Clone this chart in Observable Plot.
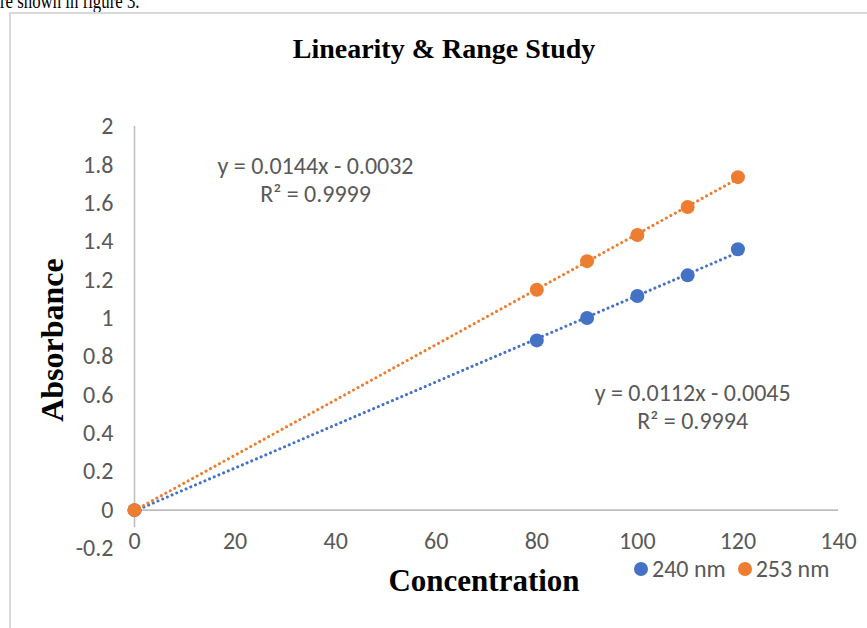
<!DOCTYPE html>
<html>
<head>
<meta charset="utf-8">
<script src="https://cdn.jsdelivr.net/npm/d3@7"></script>
<script src="https://cdn.jsdelivr.net/npm/@observablehq/plot@0.6"></script>
<style>
  body { margin: 0; background: #fff; }
  #wrap { position: relative; width: 867px; height: 628px; overflow: hidden; background: #fff; }
  #wrap svg { position: absolute; left: 0; top: 0; }
  .serif { font-family: "Liberation Serif", "Times New Roman", serif; color: #000; position: absolute; white-space: nowrap; }
  #intro { left: 0; top: -9px; font-size: 21px; line-height: 21px; transform: scaleX(0.8); transform-origin: 0 0; }
  #frame { position: absolute; left: 9px; top: 12px; width: 900px; height: 700px; border: 2px solid #d9d9d9; box-sizing: border-box; }
  #title { left: 444px; top: 33px; transform: translateX(-50%); font-size: 28px; font-weight: bold; line-height: 32px; }
  #xlabel { left: 484px; top: 563px; transform: translateX(-50%); font-size: 31px; font-weight: bold; line-height: 36px; }
  #ylabel { left: 52px; top: 340px; transform: translate(-50%, -50%) rotate(-90deg); font-size: 32px; font-weight: bold; line-height: 36px; }
  #legend { position: absolute; left: 634px; top: 555px; display: flex; gap: 12px; font-family: Carlito, Lato, "Open Sans", sans-serif; font-size: 24px; line-height: 28px; color: #595959; }
  #legend .item { display: flex; align-items: center; gap: 4px; }
  #legend .sw { width: 14px; height: 14px; border-radius: 50%; display: inline-block; }
</style>
</head>
<body>
<div id="wrap">
  <div id="intro" class="serif">re shown in figure 3.</div>
  <div id="frame"></div>
  <div id="title" class="serif">Linearity &amp; Range Study</div>
  <div id="xlabel" class="serif">Concentration</div>
  <div id="ylabel" class="serif">Absorbance</div>
  <div id="legend"></div>
</div>
<script>
// ---- data ----
const concentrations = [0, 80, 90, 100, 110, 120];
const abs240 = [0, 0.885, 1.002, 1.116, 1.224, 1.36];
const abs253 = [0, 1.149, 1.298, 1.434, 1.580, 1.736];
const seriesNames = ["240 nm", "253 nm"];
const seriesColors = ["#4472C4", "#ED7D31"];
const equations = ["y = 0.0112x - 0.0045", "y = 0.0144x - 0.0032"];
const rSquared = ["R² = 0.9994", "R² = 0.9999"];
const xTicks = [0, 20, 40, 60, 80, 100, 120, 140];
const yTicks = [-0.2, 0, 0.2, 0.4, 0.6, 0.8, 1, 1.2, 1.4, 1.6, 1.8, 2];

const data = [];
[abs240, abs253].forEach((vals, s) => {
  concentrations.forEach((c, i) => data.push({series: seriesNames[s], c, a: vals[i]}));
});
const labels = seriesNames.map((s, i) => ({series: s, text: equations[i] + "\n" + rSquared[i]}));
const labelPos = {"240 nm": [111, 0.542], "253 nm": [36, 1.724]};

const sans = "Carlito, Lato, 'Open Sans', sans-serif";
const grey = "#595959";
const fs = 24;

const plot = Plot.plot({
  width: 867,
  height: 628,
  marginLeft: 134,
  marginRight: 29,
  marginTop: 126,
  marginBottom: 80,
  x: {domain: [0, 140], axis: null},
  y: {domain: [-0.2, 2], axis: null},
  color: {domain: seriesNames, range: seriesColors},
  style: {fontFamily: sans, fontSize: fs + "px", color: grey, background: "transparent", overflow: "visible"},
  marks: [
    Plot.ruleY([0], {x1: 0, x2: 140, stroke: "#bfbfbf", strokeWidth: 1.6}),
    Plot.ruleX([0], {y1: -0.09, y2: 2, stroke: "#bfbfbf", strokeWidth: 1.6}),
    Plot.axisY(yTicks, {tickSize: 0, tickPadding: 21, label: null, fill: grey, fontSize: fs,
      tickFormat: d => String(+d.toFixed(1))}),
    Plot.text(xTicks, {x: d => d, frameAnchor: "bottom", dy: 0, text: d => String(d), fill: grey, fontSize: fs}),
    Plot.linearRegressionY(data, {x: "c", y: "a", stroke: "series", ci: 0, strokeWidth: 3,
      strokeDasharray: "0.1 5", strokeLinecap: "round"}),
    Plot.dot(data, {x: "c", y: "a", fill: "series", r: 7}),
    Plot.text(labels, {x: d => labelPos[d.series][0], y: d => labelPos[d.series][1], text: "text",
      fill: grey, fontSize: fs, lineHeight: 1.17})
  ]
});
document.getElementById("wrap").appendChild(plot);

const legend = document.getElementById("legend");
seriesNames.forEach((s, i) => {
  const item = document.createElement("div");
  item.className = "item";
  item.innerHTML = `<span class="sw" style="background:${seriesColors[i]}"></span><span>${s}</span>`;
  legend.appendChild(item);
});
</script>
</body>
</html>
